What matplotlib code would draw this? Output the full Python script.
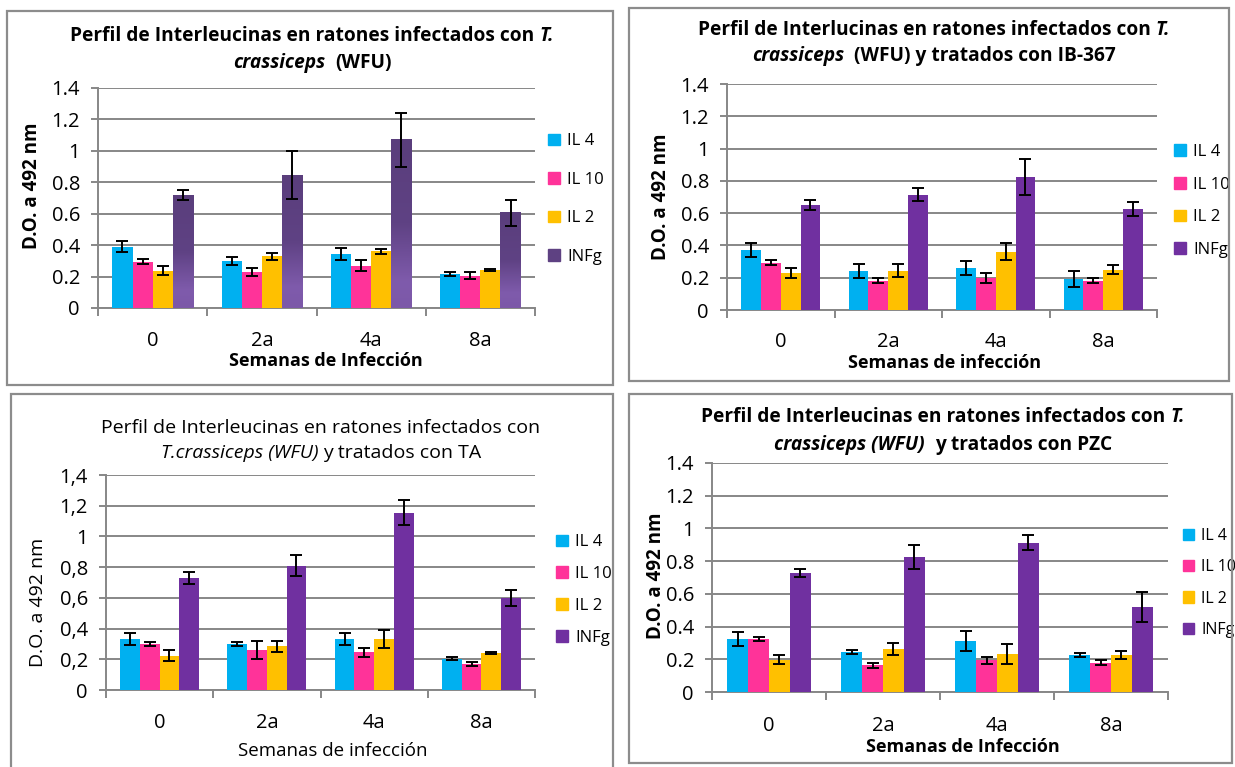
import numpy as np
import matplotlib.pyplot as plt
from matplotlib.patches import Rectangle, Patch
from matplotlib.colors import LinearSegmentedColormap

FONT = "Open Sans"
W, H = 1235, 767

weeks = ["0", "2a", "4a", "8a"]
cytokines = ["IL 4", "IL 10", "IL 2", "INFg"]
colors = ["#00B0F0", "#FF3399", "#FFC000", "#7030A0"]

# rows follow cytokines order, columns follow weeks
wfu_mean = [[0.39, 0.30, 0.345, 0.215],
            [0.295, 0.23, 0.27, 0.205],
            [0.238, 0.328, 0.36, 0.241],
            [0.717, 0.846, 1.07, 0.605]]
wfu_err = [[0.035, 0.026, 0.038, 0.012],
           [0.015, 0.027, 0.036, 0.021],
           [0.031, 0.022, 0.016, 0.007],
           [0.032, 0.150, 0.170, 0.085]]

ib367_mean = [[0.374, 0.244, 0.262, 0.19],
              [0.293, 0.182, 0.20, 0.182],
              [0.229, 0.244, 0.361, 0.248],
              [0.652, 0.714, 0.826, 0.626]]
ib367_err = [[0.044, 0.044, 0.044, 0.050],
             [0.015, 0.015, 0.031, 0.015],
             [0.031, 0.039, 0.052, 0.028],
             [0.031, 0.041, 0.112, 0.041]]

ta_mean = [[0.332, 0.30, 0.332, 0.204],
           [0.30, 0.258, 0.245, 0.169],
           [0.224, 0.284, 0.332, 0.241],
           [0.729, 0.81, 1.155, 0.599]]
ta_err = [[0.042, 0.013, 0.036, 0.011],
          [0.015, 0.059, 0.027, 0.014],
          [0.034, 0.036, 0.058, 0.007],
          [0.037, 0.070, 0.081, 0.049]]

pzc_mean = [[0.323, 0.245, 0.311, 0.225],
            [0.323, 0.163, 0.194, 0.18],
            [0.198, 0.262, 0.231, 0.225],
            [0.73, 0.826, 0.912, 0.519]]
pzc_err = [[0.041, 0.013, 0.060, 0.014],
           [0.012, 0.015, 0.020, 0.017],
           [0.028, 0.036, 0.061, 0.025],
           [0.024, 0.075, 0.046, 0.094]]

yticks = [0, 0.2, 0.4, 0.6, 0.8, 1.0, 1.2, 1.4]
ytick_dot = ["0", "0.2", "0.4", "0.6", "0.8", "1", "1.2", "1.4"]
ytick_comma = ["0", "0,2", "0,4", "0,6", "0,8", "1", "1,2", "1,4"]

GRID = "#878787"

fig = plt.figure(figsize=(W / 100, H / 100), dpi=100)
fig.patch.set_facecolor("white")
renderer = fig.canvas.get_renderer()


def fx(x):
    return x / W


def fy(y):
    return 1 - y / H


def rich_line(xc, y, parts, size, weight):
    """Centered line made of (text, style, spaces after) pieces."""
    probe_a = fig.text(0, 0, "x x", fontsize=size, fontweight=weight, family=FONT)
    probe_b = fig.text(0, 0, "xx", fontsize=size, fontweight=weight, family=FONT)
    space = (probe_a.get_window_extent(renderer).width
             - probe_b.get_window_extent(renderer).width)
    probe_a.remove()
    probe_b.remove()
    texts, widths = [], []
    for s, style, gap in parts:
        t = fig.text(0, fy(y), s, fontsize=size, fontweight=weight,
                     fontstyle=style, family=FONT, va="center", ha="left")
        texts.append(t)
        widths.append(t.get_window_extent(renderer).width + gap * space)
    x = xc - sum(widths) / 2
    for t, w in zip(texts, widths):
        t.set_x(fx(x))
        x += w


def gradient_bars(ax, bars):
    cmap = LinearSegmentedColormap.from_list(
        "infg", [(0, "#7C58A8"), (0.15, "#7F5BAC"), (0.5, "#5F4284"), (1, "#5A3E7C")])
    grad = np.linspace(0, 1, 100).reshape(-1, 1)
    for r in bars:
        x0 = r.get_x()
        ax.imshow(grad, extent=[x0, x0 + r.get_width(), 0, r.get_height()],
                  origin="lower", aspect="auto", cmap=cmap, zorder=3.5)


def panel(spec, means, errs):
    l, t, r, b = spec["box"]
    fig.add_artist(Rectangle((fx(l), fy(b)), fx(r - l), (b - t) / H,
                             transform=fig.transFigure, fill=False,
                             ec="#8c8c8c", lw=1.6))
    al, at, ar, ab = spec["plot"]
    ax = fig.add_axes([fx(al), fy(ab), fx(ar - al), (ab - at) / H])
    wt = "bold" if spec["bold"] else "normal"

    x = np.arange(len(weeks))
    bw = 0.184
    for i in range(4):
        bars = ax.bar(x + (i - 1.5) * bw, means[i], bw, color=colors[i],
                      zorder=3, yerr=errs[i],
                      error_kw=dict(ecolor="black", elinewidth=1.4,
                                    capsize=4.5, capthick=1.4, zorder=4))
        if i == 3 and spec.get("gradient"):
            gradient_bars(ax, bars)

    ax.set_xlim(-0.5, 3.5)
    ax.set_ylim(0, 1.4)
    ax.set_yticks(yticks)
    ax.set_yticklabels(spec["ylabels"], family=FONT)
    ax.grid(axis="y", color=GRID, lw=1.4, zorder=0)
    for s in ["top", "right"]:
        ax.spines[s].set_visible(False)
    for s in ["left", "bottom"]:
        ax.spines[s].set_color(GRID)
        ax.spines[s].set_linewidth(1.4)
    ax.tick_params(axis="y", length=5, color=GRID, width=1.4, pad=8,
                   labelsize=spec["tick_size"])
    ax.set_xticks(x)
    ax.set_xticklabels(weeks, family=FONT)
    ax.tick_params(axis="x", length=0, pad=spec["xpad"],
                   labelsize=spec["tick_size"])
    ax.set_xticks(np.arange(-0.5, 4, 1), minor=True)
    ax.tick_params(axis="x", which="minor", length=6, color=GRID, width=1.4)

    ax.set_ylabel("D.O. a 492 nm", fontsize=spec["ylab_size"],
                  fontweight=wt, family=FONT)
    ax.yaxis.label.set_va("center")
    ax.yaxis.set_label_coords(fx(spec["ylab"][0]), fy(spec["ylab"][1]),
                              transform=fig.transFigure)
    ax.set_xlabel(spec["xlabel"], fontsize=spec["xlab_size"], fontweight=wt,
                  family=FONT)
    ax.xaxis.label.set_va("center")
    ax.xaxis.set_label_coords(fx(spec["xlab"][0]), fy(spec["xlab"][1]),
                              transform=fig.transFigure)

    handles = [Patch(color=c) for c in colors[:3]] + [Patch(color=spec["leg_infg"])]
    ax.legend(handles, cytokines, loc="center left", frameon=False,
              bbox_to_anchor=(fx(spec["leg"][0]), fy(spec["leg"][1])),
              bbox_transform=fig.transFigure, borderpad=0, borderaxespad=0,
              prop=dict(family=FONT, size=spec["leg_size"]),
              handlelength=0.7, handleheight=0.7, handletextpad=0.45,
              labelspacing=spec["leg_space"])

    for yy, parts in zip(spec["title_y"], spec["title"]):
        rich_line(spec["title_x"], yy, parts, spec["title_size"], wt)
    return ax


specs = [
    dict(box=(7, 11, 613, 385), plot=(98, 88, 535, 308), bold=True,
         gradient=True, leg_infg="#5E4182",
         ylabels=ytick_dot, tick_size=14.5, xpad=16.5,
         ylab=(32, 186), ylab_size=13.5, xlabel="Semanas de Infección",
         xlab=(326, 361), xlab_size=13, leg=(548, 199), leg_size=12,
         leg_space=1.35, title_x=312, title_y=(36, 63), title_size=13.8,
         title=[[("Perfil de Interleucinas en ratones infectados con", "normal", 1),
                 ("T.", "italic", 0)],
                [("crassiceps", "italic", 2), ("(WFU)", "normal", 0)]]),
    dict(box=(629, 8, 1229, 381), plot=(727, 84, 1157, 310), bold=True,
         leg_infg=colors[3],
         ylabels=ytick_dot, tick_size=14.5, xpad=16,
         ylab=(661, 197), ylab_size=13.5, xlabel="Semanas de infección",
         xlab=(945, 363), xlab_size=13, leg=(1174, 201), leg_size=12,
         leg_space=1.0, title_x=934, title_y=(30, 56), title_size=13.8,
         title=[[("Perfil de Interlucinas en ratones infectados con", "normal", 1),
                 ("T.", "italic", 0)],
                [("crassiceps", "italic", 2),
                 ("(WFU) y tratados con IB-367", "normal", 0)]]),
    dict(box=(11, 394, 613, 772), plot=(106, 475, 535, 690), bold=False,
         leg_infg=colors[3],
         ylabels=ytick_comma, tick_size=14.5, xpad=16.5,
         ylab=(38, 602), ylab_size=14, xlabel="Semanas de infección",
         xlab=(333, 751), xlab_size=13.5, leg=(556, 590), leg_size=12,
         leg_space=0.95, title_x=321, title_y=(428, 453), title_size=14,
         title=[[("Perfil de Interleucinas en ratones infectados con", "normal", 0)],
                [("T.crassiceps (WFU)", "italic", 1),
                 ("y tratados con TA", "normal", 0)]]),
    dict(box=(629, 394, 1232, 763), plot=(712, 463, 1168, 692), bold=True,
         leg_infg=colors[3],
         ylabels=ytick_dot, tick_size=14.5, xpad=17,
         ylab=(656, 576), ylab_size=13.5, xlabel="Semanas de Infección",
         xlab=(963, 747), xlab_size=13, leg=(1183, 583), leg_size=11.5,
         leg_space=0.95, title_x=943, title_y=(417, 445), title_size=13.8,
         title=[[("Perfil de Interleucinas en ratones infectados con", "normal", 1),
                 ("T.", "italic", 0)],
                [("crassiceps (WFU)", "italic", 2),
                 ("y tratados con PZC", "normal", 0)]]),
]

panel(specs[0], wfu_mean, wfu_err)
panel(specs[1], ib367_mean, ib367_err)
panel(specs[2], ta_mean, ta_err)
panel(specs[3], pzc_mean, pzc_err)

fig.savefig("out.png", dpi=100, facecolor="white")
